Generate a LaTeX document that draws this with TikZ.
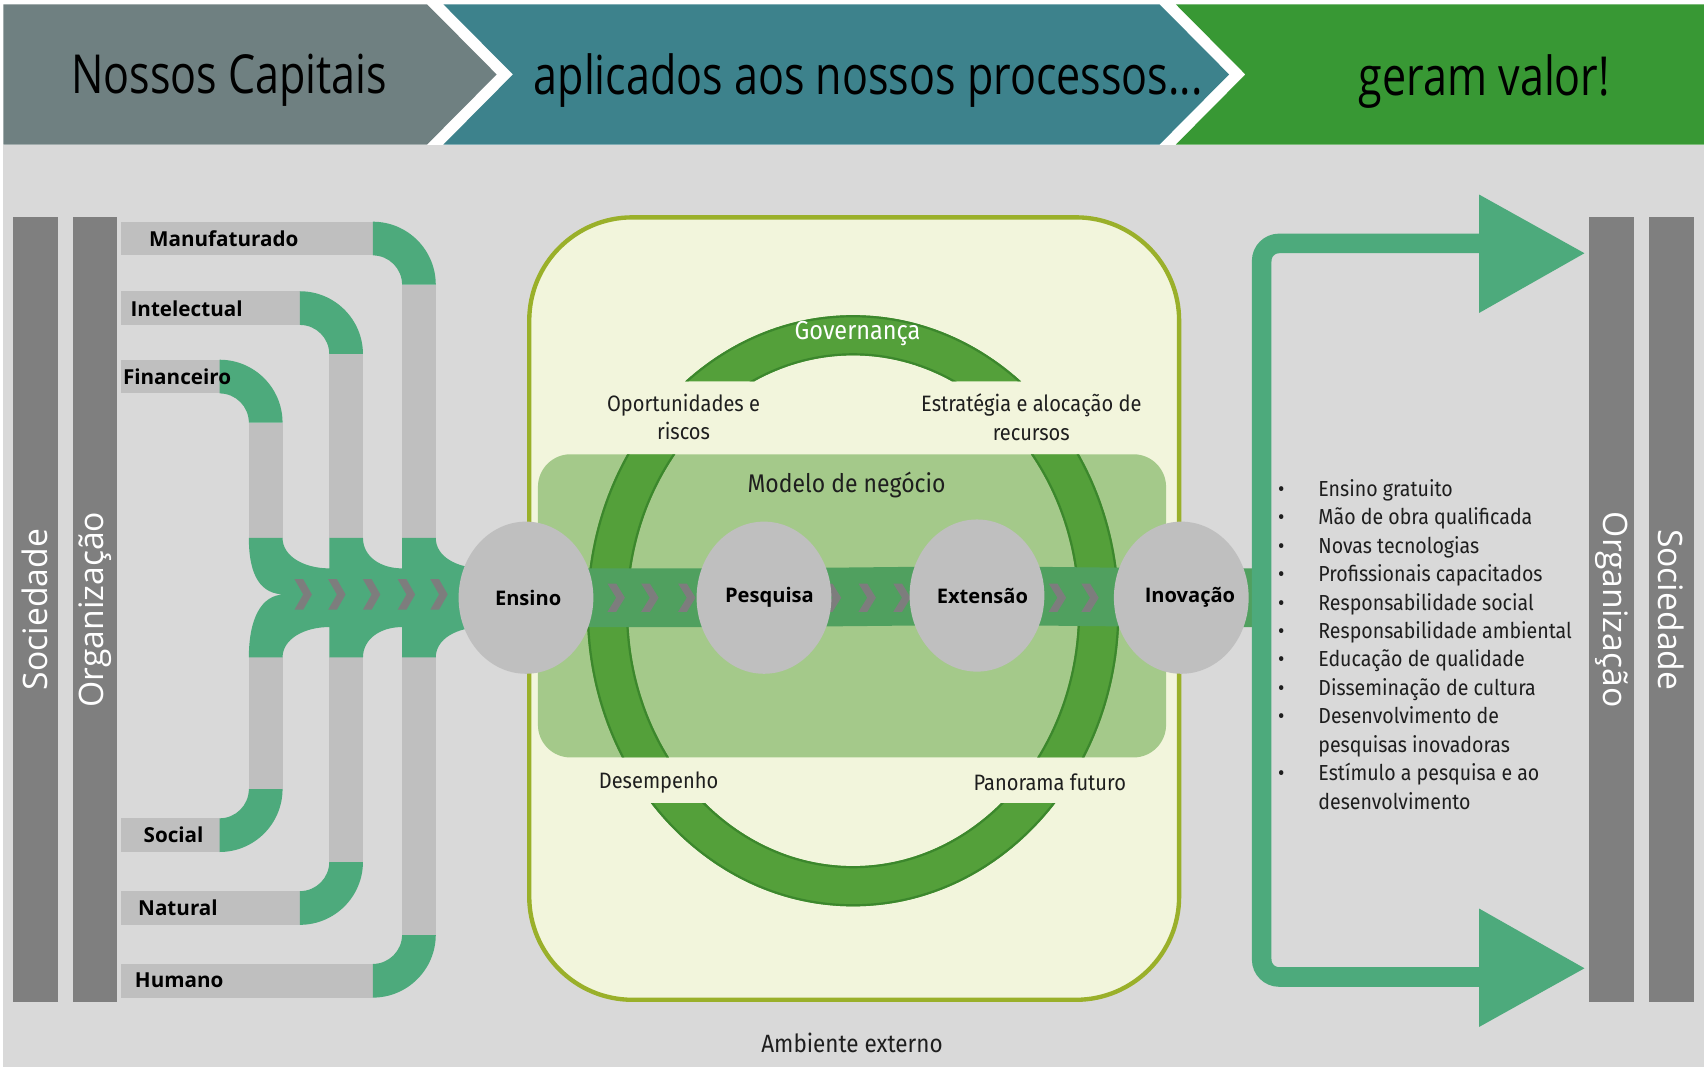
\documentclass[tikz,border=0pt]{standalone}
\usepackage{fontspec}
\usetikzlibrary{shapes}
\usetikzlibrary{arrows.meta}
\setmainfont{Fira Sans}
\newfontfamily\dinfont[FakeStretch=0.9]{Fira Sans}
\newfontfamily\bannerfont[FakeStretch=0.8]{Open Sans}
\newfontfamily\boldsans{Open Sans}
\definecolor{bgray}{RGB}{217,217,217}
\definecolor{capcol}{RGB}{111,128,129}
\definecolor{proccol}{RGB}{61,130,140}
\definecolor{valcol}{RGB}{56,152,52}
\definecolor{bardark}{RGB}{127,127,127}
\definecolor{pipegray}{RGB}{191,191,191}
\definecolor{pipegreen}{RGB}{77,170,124}
\definecolor{chevgray}{RGB}{125,125,125}
\definecolor{pale}{RGB}{242,245,220}
\definecolor{olive}{RGB}{154,176,42}
\definecolor{modelo}{RGB}{164,201,138}
\definecolor{ringgreen}{RGB}{84,160,58}
\definecolor{ringedge}{RGB}{60,135,45}
\definecolor{bandgreen}{RGB}{80,160,95}
\definecolor{txt}{RGB}{30,30,30}
\pgfdeclarelayer{back}
\pgfdeclarelayer{mid}
\pgfsetlayers{back,mid,main}

\begin{document}
\begin{tikzpicture}[x=1pt,y=-1pt,
  every node/.style={inner sep=0pt},
  grayrun/.style={fill=pipegray},
  greenturn/.style={fill=pipegreen},
  chevron/.style={fill=chevgray},
  orgbar/.style={fill=bardark,minimum width=722pt,minimum height=41pt,text=white,font=\boldsans\fontsize{31}{32}\selectfont},
  proc/.style={ellipse,fill=pipegray,minimum width=124pt,minimum height=140pt,font=\boldsans\bfseries\fontsize{18.5}{20}\selectfont},
  banner/.style={anchor=base,font=\bannerfont\fontsize{49.5}{52}\selectfont},
  capital/.style={anchor=west,font=\boldsans\bfseries\fontsize{19}{20}\selectfont},
  note/.style={align=center,text=txt,font=\dinfont\fontsize{20.5}{26}\selectfont},
  procband/.style={draw=bandgreen,line width=54pt},
  valor/.style={draw=pipegreen,line width=18pt,rounded corners=16pt},
  valorhead/.style={fill=pipegreen}]
\useasboundingbox (0,0) rectangle (1568,982);

\begin{pgfonlayer}{back}
\fill[white] (0,0) rectangle (1568,982);
\fill[bgray] (3,133) rectangle (1568,982);
\fill[capcol] (3,4) -- (393,4) -- (457,68.5) -- (393,133) -- (3,133) -- cycle;
\fill[proccol] (408,4) -- (1067,4) -- (1131,68.5) -- (1067,133) -- (408,133) -- (472,68.5) -- cycle;
\fill[valcol] (1082,4) -- (1568,4) -- (1568,133) -- (1082,133) -- (1146,68.5) -- cycle;
\draw[fill=pale,draw=olive,line width=4pt,rounded corners=95pt] (487,200) rectangle (1085,920);
\fill[modelo,rounded corners=30pt] (495,418) rectangle (1073,697);
\begin{scope}
\clip (0,285) rectangle (1568,351) (0,418) rectangle (1568,697) (0,739) rectangle (1568,840);
\fill[ringgreen,even odd rule] (785,562) ellipse[x radius=245,y radius=272] (785,562) ellipse[x radius=207,y radius=235];
\draw[ringedge,line width=2pt] (785,562) ellipse[x radius=244,y radius=271] (785,562) ellipse[x radius=208,y radius=236];
\end{scope}
\end{pgfonlayer}

\node[banner] (bcap) at (211,86) {Nossos Capitais};
\node[banner] (bproc) at (799,87) {aplicados aos nossos processos...};
\node[banner] (bval) at (1366,88) {geram valor!};

\node[orgbar,rotate=90] (socL) at (32.5,561) {Sociedade};
\node[orgbar,rotate=90] (orgL) at (87.5,561) {Organização};
\node[orgbar,rotate=-90] (orgR) at (1483,561) {Organização};
\node[orgbar,rotate=-90] (socR) at (1538,561) {Sociedade};

\foreach \cx/\yt/\nm/\lx in {343/204/Manufaturado/137, 276/268/Intelectual/120, 202/331/Financeiro/113}{
  \fill[grayrun] (111,\yt) rectangle (\cx,\yt+31);
  \fill[greenturn] (\cx,\yt) arc[start angle=-90,end angle=0,radius=58] -- ++(-31,0) arc[start angle=0,end angle=-90,radius=27] -- cycle;
  \fill[grayrun] (\cx+27,\yt+58) rectangle (\cx+58,495);
  \node[capital] (cap-\nm) at (\lx,\yt+16) {\nm};
}
\foreach \cx/\yb/\nm/\lx in {202/784/Social/132, 276/851/Natural/127, 343/918/Humano/124}{
  \fill[grayrun] (111,\yb-31) rectangle (\cx,\yb);
  \fill[greenturn] (\cx,\yb) arc[start angle=90,end angle=0,radius=58] -- ++(-31,0) arc[start angle=0,end angle=90,radius=27] -- cycle;
  \fill[grayrun] (\cx+27,605) rectangle (\cx+58,\yb-58);
  \node[capital] (cap-\nm) at (\lx,\yb-16) {\nm};
}
\fill[greenturn] (262,547) .. controls (240,547) and (229,530) .. (229,495) -- (260,495)
  .. controls (260,512) and (280,523) .. (303,523) -- (303,495) -- (334,495)
  .. controls (334,512) and (350,523) .. (370,523) -- (370,495) -- (401,495)
  .. controls (401,512) and (420,523) .. (445,523) -- (480,523) -- (480,577) -- (445,577)
  .. controls (420,577) and (401,588) .. (401,605) -- (370,605) -- (370,577)
  .. controls (350,577) and (334,588) .. (334,605) -- (303,605) -- (303,577)
  .. controls (280,577) and (260,588) .. (260,605) -- (229,605)
  .. controls (229,570) and (240,547) .. (262,547) -- cycle;
\foreach \x in {271,302,334,366,396}
  \fill[chevron] (\x,533) -- ++(8,0) -- ++(8,14) -- ++(-8,14) -- ++(-8,0) -- ++(8,-14) -- cycle;

\node[proc] (ensino) at (484,550) {\makebox[0pt]{\hspace*{4pt}Ensino}};
\node[proc] (pesquisa) at (703,550) {\makebox[0pt]{\hspace*{10pt}Pesquisa}};
\node[proc] (extensao) at (899,548) {\makebox[0pt]{\hspace*{10pt}Extensão}};
\node[proc] (inovacao) at (1087,550) {\makebox[0pt]{\hspace*{16pt}Inovação}};
\coordinate (stem) at (1161,550);

\begin{pgfonlayer}{mid}
\draw[procband] (ensino.center) -- (pesquisa.center) -- (extensao.center) -- (inovacao.center) -- (stem);
\foreach \x in {559,590,624,758,790,822,965,995}
  \fill[chevron] (\x,537) -- ++(8,0) -- ++(8,13) -- ++(-8,13) -- ++(-8,0) -- ++(8,-13) -- cycle;
\end{pgfonlayer}

\node[note,text=white,font=\dinfont\fontsize{24}{26}\selectfont] (gov) at (789,307) {Governança};
\node[note] (oport) at (629,384) {Oportunidades e\\riscos};
\node[note] (estrat) at (949,384) {Estratégia e alocação de\\recursos};
\node[note,font=\dinfont\fontsize{23.5}{26}\selectfont] (modneg) at (779,446) {Modelo de negócio};
\node[note] (desemp) at (606,720) {Desempenho};
\node[note] (panor) at (966,720) {Panorama futuro};
\node[note,font=\dinfont\fontsize{23}{26}\selectfont] (amb) at (784,960) {Ambiente externo};

\coordinate (toptip) at (1458,233);
\coordinate (bottip) at (1458,891);
\draw[valor] (1370,224) -- (1161,224) -- (1161,899) -- (1370,899);
\fill[valorhead] (toptip) -- (1361,179) -- (1361,288) -- cycle;
\fill[valorhead] (bottip) -- (1361,836) -- (1361,945) -- cycle;

\node[anchor=north west,text=txt,font=\dinfont\fontsize{20}{26.2}\selectfont] (valores) at (1176,438) {%
\begin{tabular}{@{}p{37pt}@{}l@{}}
\textbullet & Ensino gratuito\\
\textbullet & Mão de obra qualificada\\
\textbullet & Novas tecnologias\\
\textbullet & Profissionais capacitados\\
\textbullet & Responsabilidade social\\
\textbullet & Responsabilidade ambiental\\
\textbullet & Educação de qualidade\\
\textbullet & Disseminação de cultura\\
\textbullet & Desenvolvimento de\\
 & pesquisas inovadoras\\
\textbullet & Estímulo a pesquisa e ao\\
 & desenvolvimento
\end{tabular}};
\end{tikzpicture}
\end{document}
